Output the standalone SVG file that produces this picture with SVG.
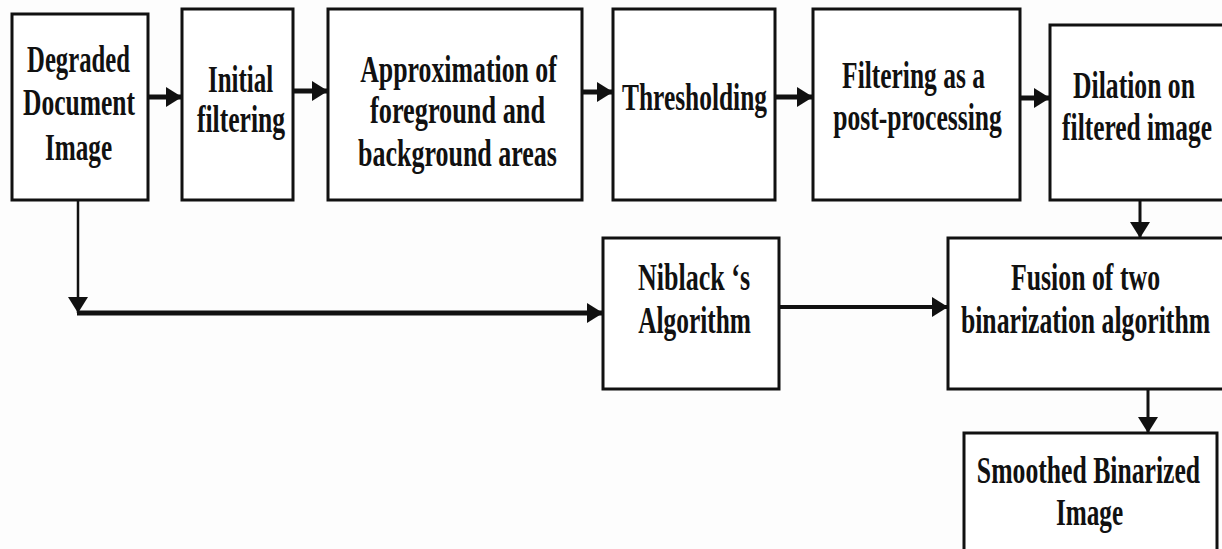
<svg xmlns="http://www.w3.org/2000/svg" width="1222" height="549" viewBox="0 0 1222 549">
<defs>
<style>
.box{fill:#fff;stroke:#111;stroke-width:3}
.t{font-family:"Liberation Serif","Times New Roman",serif;font-weight:bold;font-size:37px;fill:#111;text-anchor:middle}
.c{stroke:#111;fill:none}
</style>
<marker id="ah" markerUnits="userSpaceOnUse" viewBox="0 0 16 20" refX="16" refY="10" markerWidth="16" markerHeight="20" orient="auto">
<path d="M0,0 L16,10 L0,20 Z" fill="#111"/>
</marker>
</defs>
<rect width="1222" height="549" fill="#fdfdfd"/>
<g id="n1"><rect class="box" x="12" y="14" width="136" height="186"/>
<text class="t" transform="matrix(0.7 0 0 1 78.5 0)" x="0" y="72" textLength="147" lengthAdjust="spacingAndGlyphs">Degraded</text>
<text class="t" transform="matrix(0.7 0 0 1 79 0)" x="0" y="115" textLength="160" lengthAdjust="spacingAndGlyphs">Document</text>
<text class="t" transform="matrix(0.7 0 0 1 78.5 0)" x="0" y="160" textLength="96" lengthAdjust="spacingAndGlyphs">Image</text></g>
<g id="n2"><rect class="box" x="182" y="9" width="111" height="191"/>
<text class="t" transform="matrix(0.7 0 0 1 240.5 0)" x="0" y="92" textLength="93" lengthAdjust="spacingAndGlyphs">Initial</text>
<text class="t" transform="matrix(0.7 0 0 1 241 0)" x="0" y="132" textLength="126" lengthAdjust="spacingAndGlyphs">filtering</text></g>
<g id="n3"><rect class="box" x="328" y="9" width="254" height="191"/>
<text class="t" transform="matrix(0.7 0 0 1 458.5 0)" x="0" y="82" textLength="281" lengthAdjust="spacingAndGlyphs">Approximation of</text>
<text class="t" transform="matrix(0.7 0 0 1 457.5 0)" x="0" y="123" textLength="250" lengthAdjust="spacingAndGlyphs">foreground and</text>
<text class="t" transform="matrix(0.7 0 0 1 457.5 0)" x="0" y="166" textLength="284" lengthAdjust="spacingAndGlyphs">background areas</text></g>
<g id="n4"><rect class="box" x="613" y="9" width="162" height="191"/>
<text class="t" transform="matrix(0.7 0 0 1 694.5 0)" x="0" y="110" textLength="207" lengthAdjust="spacingAndGlyphs">Thresholding</text></g>
<g id="n5"><rect class="box" x="813" y="9" width="207" height="191"/>
<text class="t" transform="matrix(0.7 0 0 1 913.5 0)" x="0" y="88" textLength="204" lengthAdjust="spacingAndGlyphs">Filtering as a</text>
<text class="t" transform="matrix(0.7 0 0 1 917.5 0)" x="0" y="130" textLength="241" lengthAdjust="spacingAndGlyphs">post-processing</text></g>
<g id="n6"><rect class="box" x="1050" y="25" width="180" height="175"/>
<text class="t" transform="matrix(0.7 0 0 1 1134 0)" x="0" y="98" textLength="174" lengthAdjust="spacingAndGlyphs">Dilation on</text>
<text class="t" transform="matrix(0.7 0 0 1 1137 0)" x="0" y="140" textLength="214" lengthAdjust="spacingAndGlyphs">filtered image</text></g>
<g id="n7"><rect class="box" x="603" y="238" width="176" height="151"/>
<text class="t" transform="matrix(0.7 0 0 1 694 0)" x="0" y="290" textLength="160" lengthAdjust="spacingAndGlyphs">Niblack ‘s</text>
<text class="t" transform="matrix(0.7 0 0 1 694.5 0)" x="0" y="333" textLength="161" lengthAdjust="spacingAndGlyphs">Algorithm</text></g>
<g id="n8"><rect class="box" x="948" y="238" width="285" height="151"/>
<text class="t" transform="matrix(0.7 0 0 1 1085.5 0)" x="0" y="290" textLength="213" lengthAdjust="spacingAndGlyphs">Fusion of two</text>
<text class="t" transform="matrix(0.7 0 0 1 1085.5 0)" x="0" y="333" textLength="356" lengthAdjust="spacingAndGlyphs">binarization algorithm</text></g>
<g id="n9"><rect class="box" x="964" y="433" width="253" height="130"/>
<text class="t" transform="matrix(0.7 0 0 1 1088.5 0)" x="0" y="483" textLength="319" lengthAdjust="spacingAndGlyphs">Smoothed Binarized</text>
<text class="t" transform="matrix(0.7 0 0 1 1089.5 0)" x="0" y="525" textLength="96" lengthAdjust="spacingAndGlyphs">Image</text></g>
<g id="connectors">
<line class="c" x1="148" y1="97" x2="182" y2="97" stroke-width="5" marker-end="url(#ah)"/>
<line class="c" x1="293" y1="91" x2="328" y2="91" stroke-width="5" marker-end="url(#ah)"/>
<line class="c" x1="582" y1="92" x2="613" y2="92" stroke-width="5" marker-end="url(#ah)"/>
<line class="c" x1="775" y1="97" x2="813" y2="97" stroke-width="5" marker-end="url(#ah)"/>
<line class="c" x1="1020" y1="98" x2="1050" y2="98" stroke-width="5" marker-end="url(#ah)"/>
<line class="c" x1="78" y1="200" x2="78" y2="313" stroke-width="2.5" marker-end="url(#ah)"/>
<line class="c" x1="77" y1="313" x2="603" y2="313" stroke-width="5" marker-end="url(#ah)"/>
<line class="c" x1="779" y1="307" x2="948" y2="307" stroke-width="4" marker-end="url(#ah)"/>
<line class="c" x1="1140" y1="200" x2="1140" y2="238" stroke-width="3" marker-end="url(#ah)"/>
<line class="c" x1="1148" y1="389" x2="1148" y2="433" stroke-width="3" marker-end="url(#ah)"/>
</g>
</svg>
